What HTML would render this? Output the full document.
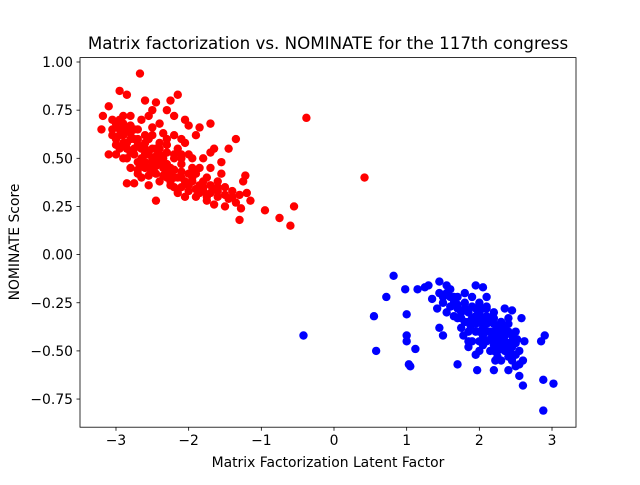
<!DOCTYPE html>
<html><head><meta charset="utf-8"><style>
body{margin:0;background:#fff}
svg text{font-family:"DejaVu Sans","Liberation Sans",sans-serif;fill:#000}
</style></head><body>
<svg id="chart" width="640" height="480" xmlns="http://www.w3.org/2000/svg">
<rect width="640" height="480" fill="#fff"/>
<text x="328" y="49" font-size="16.7" text-anchor="middle">Matrix factorization vs. NOMINATE for the 117th congress</text>
<g id="marks"></g>
<rect x="80" y="57.6" width="496" height="369.6" fill="none" stroke="#000" stroke-width="0.8"/>
<g id="axes"></g>
<text x="328" y="467" font-size="13.9" text-anchor="middle">Matrix Factorization Latent Factor</text>
<text transform="translate(19,242) rotate(-90)" font-size="13.9" text-anchor="middle">NOMINATE Score</text>
</svg>
<script>
const xTicks=[-3,-2,-1,0,1,2,3];
const yTicks=[-0.75,-0.5,-0.25,0,0.25,0.5,0.75,1.0];
const yTickLabels=["−0.75","−0.50","−0.25","0.00","0.25","0.50","0.75","1.00"];
const xTickLabels=["−3","−2","−1","0","1","2","3"];
const redX=[-2.67,-2.95,-2.85,-2.6,-2.45,-2.25,-2.15,-2.3,-2.05,-2.2,-2.5,-3.18,-3.2,-3.1,-3.05,-2.9,-2.8,-2.75,-3.0,-2.95,-3.1,-3.0,-2.7,-2.6,-2.5,-2.4,-2.3,-2.2,-2.15,-2.05,-1.85,-1.9,-2.0,-1.7,-1.65,-1.7,-1.8,-1.85,-1.55,-1.45,-1.35,-1.9,-1.95,-2.05,-2.1,-2.2,-2.3,-2.4,-2.45,-2.55,-2.6,-2.7,-2.8,-2.85,-2.65,-2.75,-2.85,-2.55,-2.45,-2.0,-1.9,-1.8,-1.7,-1.6,-1.75,-1.65,-1.5,-1.5,-1.4,-1.35,-1.3,-1.2,-1.25,-1.22,-1.28,-1.15,-1.3,-0.95,-0.75,-0.6,-0.55,-0.38,0.42,-1.6,-1.55,-2.35,-2.25,-2.1,-2.0,-2.5,-2.4,-2.65,-2.75,-2.9,-2.85,-2.6,-2.5,-2.3,-2.55,-2.35,-2.1,-1.95,-1.75,-1.8,-1.85,-1.6,-2.15,-2.25,-2.7,-2.95,-3.05,-2.8,-2.45,-2.2,-2.0,-2.45,-2.65,-2.55,-2.9,-1.95,-1.7,
-3.0,-2.95,-2.9,-2.85,-2.8,-2.75,-2.7,-2.65,-2.6,-2.55,-2.5,-2.45,-2.4,-2.35,-2.3,-2.25,-2.2,-2.15,-2.1,-2.05,-3.0,-2.9,-2.8,-2.7,-2.6,-2.5,-2.4,-2.3,-2.2,-2.1,-2.0,-2.8,-2.7,-2.6,-2.5,-2.4,-2.3,-2.2,-2.1,-1.9,-1.8,-1.7,-1.6,-1.5,-2.65,-2.55,-2.45,-2.35,-2.25,-3.05,-2.95,-2.85,-2.75,-2.1,-1.95,-1.85,-1.75,-1.65,-1.45,-1.4];
const redY=[0.94,0.85,0.83,0.80,0.79,0.80,0.83,0.75,0.70,0.72,0.75,0.72,0.65,0.77,0.70,0.68,0.72,0.65,0.60,0.55,0.52,0.52,0.60,0.62,0.66,0.68,0.60,0.62,0.55,0.58,0.66,0.62,0.67,0.68,0.55,0.53,0.50,0.45,0.48,0.55,0.60,0.42,0.38,0.30,0.40,0.35,0.40,0.38,0.42,0.45,0.52,0.48,0.45,0.50,0.40,0.37,0.37,0.36,0.28,0.33,0.30,0.35,0.32,0.30,0.28,0.26,0.25,0.35,0.30,0.27,0.31,0.32,0.38,0.41,0.24,0.28,0.18,0.23,0.19,0.15,0.25,0.71,0.40,0.38,0.42,0.50,0.45,0.47,0.52,0.55,0.58,0.55,0.55,0.62,0.58,0.45,0.50,0.53,0.60,0.63,0.60,0.45,0.40,0.33,0.36,0.33,0.32,0.38,0.42,0.65,0.65,0.60,0.55,0.50,0.42,0.47,0.70,0.72,0.72,0.50,0.45,
0.68,0.62,0.58,0.55,0.63,0.52,0.57,0.50,0.55,0.52,0.48,0.51,0.48,0.45,0.47,0.42,0.44,0.40,0.43,0.38,0.57,0.50,0.53,0.44,0.48,0.43,0.52,0.43,0.40,0.35,0.36,0.67,0.65,0.58,0.62,0.55,0.57,0.52,0.50,0.34,0.38,0.36,0.35,0.31,0.47,0.41,0.46,0.41,0.36,0.62,0.70,0.65,0.60,0.52,0.40,0.32,0.30,0.34,0.29,0.33];
const blueX=[-0.42,0.55,0.58,0.72,0.82,0.98,1.0,1.0,1.03,1.05,1.12,1.15,1.0,1.25,1.3,1.35,1.45,1.42,1.45,1.5,1.5,1.7,1.85,1.85,1.95,2.05,1.95,1.97,2.2,2.22,2.2,2.4,2.5,2.55,2.6,2.85,2.9,2.88,3.02,2.88,2.6,2.35,2.45,2.58,2.62,1.55,1.6,1.65,1.7,1.75,1.8,1.85,1.9,1.95,2.0,2.05,2.1,2.15,2.2,2.25,2.3,2.35,2.4,2.45,2.5,2.3,2.2,2.0,1.9,1.8,2.1,2.15,2.25,2.4,2.55,1.65,1.55,1.6,1.5,1.75,1.85,2.0,2.05,1.95,2.3,2.45,2.35,1.7,2.1,2.15,1.8,2.4,2.5,1.45,1.55,2.25,2.0,1.9,
1.95,2.0,2.05,2.1,2.15,2.2,2.25,2.3,2.35,2.4,1.95,2.0,2.05,2.1,2.15,2.2,2.25,2.3,2.35,2.4,2.45,2.1,2.2,2.3,2.4,1.85,1.9,2.0,2.1,2.2,2.3,2.5,1.7,1.75,1.8,1.6,1.65,1.7,2.35,2.45,2.55,2.15,2.25,2.05,1.88,1.78,2.52,2.42];
const blueY=[-0.42,-0.32,-0.50,-0.22,-0.11,-0.18,-0.42,-0.45,-0.57,-0.58,-0.49,-0.18,-0.31,-0.17,-0.16,-0.23,-0.14,-0.28,-0.38,-0.22,-0.42,-0.57,-0.45,-0.48,-0.16,-0.17,-0.52,-0.60,-0.60,-0.55,-0.50,-0.60,-0.58,-0.63,-0.68,-0.45,-0.42,-0.65,-0.67,-0.81,-0.55,-0.28,-0.29,-0.33,-0.45,-0.20,-0.22,-0.25,-0.28,-0.30,-0.25,-0.30,-0.33,-0.28,-0.35,-0.38,-0.32,-0.40,-0.42,-0.45,-0.40,-0.48,-0.50,-0.45,-0.52,-0.35,-0.30,-0.25,-0.22,-0.20,-0.45,-0.50,-0.38,-0.40,-0.50,-0.32,-0.30,-0.18,-0.25,-0.38,-0.40,-0.45,-0.28,-0.40,-0.55,-0.55,-0.42,-0.22,-0.22,-0.35,-0.35,-0.33,-0.40,-0.20,-0.16,-0.50,-0.50,-0.45,
-0.32,-0.30,-0.33,-0.36,-0.33,-0.36,-0.40,-0.43,-0.45,-0.46,-0.36,-0.40,-0.42,-0.40,-0.44,-0.47,-0.42,-0.45,-0.50,-0.53,-0.48,-0.27,-0.33,-0.38,-0.36,-0.35,-0.27,-0.30,-0.28,-0.40,-0.48,-0.46,-0.26,-0.33,-0.28,-0.27,-0.22,-0.33,-0.38,-0.42,-0.57,-0.44,-0.53,-0.47,-0.37,-0.42,-0.44,-0.50];
const NS="http://www.w3.org/2000/svg";
const sx=v=>334+v*72.67;
const sy=v=>254.6-v*192.6;
const marks=document.getElementById('marks');
function dot(x,y,c,name){const e=document.createElementNS(NS,'circle');e.setAttribute('cx',sx(x));e.setAttribute('cy',sy(y));e.setAttribute('r',4.2);e.setAttribute('fill',c);


marks.appendChild(e);}
redX.forEach((x,i)=>dot(x,redY[i],'#ff0000','republican-point'));
blueX.forEach((x,i)=>dot(x,blueY[i],'#0000ff','democrat-point'));
const ax=document.getElementById('axes');
xTicks.forEach((t,i)=>{const l=document.createElementNS(NS,'line');l.setAttribute('x1',sx(t));l.setAttribute('x2',sx(t));l.setAttribute('y1',427.2);l.setAttribute('y2',430.7);l.setAttribute('stroke','#000');l.setAttribute('stroke-width','0.8');


ax.appendChild(l);
const tx=document.createElementNS(NS,'text');tx.setAttribute('x',sx(t));tx.setAttribute('y',445);tx.setAttribute('font-size','13.9');tx.setAttribute('text-anchor','middle');tx.textContent=xTickLabels[i];


ax.appendChild(tx);});
yTicks.forEach((t,i)=>{const l=document.createElementNS(NS,'line');l.setAttribute('x1',76.5);l.setAttribute('x2',80);l.setAttribute('y1',sy(t));l.setAttribute('y2',sy(t));l.setAttribute('stroke','#000');l.setAttribute('stroke-width','0.8');


ax.appendChild(l);
const tx=document.createElementNS(NS,'text');tx.setAttribute('x',73);tx.setAttribute('y',sy(t)+5);tx.setAttribute('font-size','13.9');tx.setAttribute('text-anchor','end');tx.textContent=yTickLabels[i];


ax.appendChild(tx);});
</script>
</body></html>
